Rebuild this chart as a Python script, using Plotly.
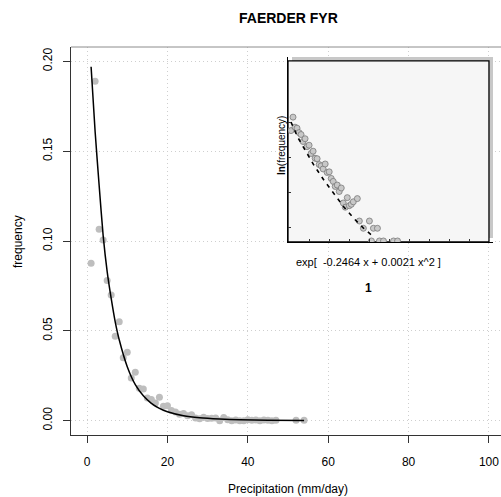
import math
import plotly.graph_objects as go

# ---------------- data ----------------
precip = [1, 2, 3, 4, 5, 6, 7, 8, 9, 10, 11, 12, 13, 14, 15, 16, 17, 18, 19, 20,
          21, 22, 23, 24, 25, 26, 27, 28, 29, 30, 31, 32, 33, 34, 35, 36, 37, 38,
          39, 40, 41, 42, 43, 44, 45, 46, 47, 52, 54]
frequency = [0.0876, 0.189, 0.1065, 0.1006, 0.078, 0.070, 0.047, 0.055, 0.035, 0.038,
             0.0237, 0.027, 0.018, 0.0176, 0.0126, 0.0117, 0.0098, 0.0130, 0.0080, 0.0083,
             0.0057, 0.0048, 0.0036, 0.0039, 0.0027, 0.0033, 0.0014, 0.0011, 0.0019, 0.0012,
             0.0013, 0.0015, 0.0, 0.0018, 0.0005, 0.0, 0.00033, 0.0, 0.0, 0.0005,
             0.00016, 0.00033, 0.0, 0.00033, 0.00016, 0.0, 0.00016, 0.00016, 0.00016]

# fitted curve in the main panel
curve_x = [1, 2, 3, 4, 5, 6, 7, 8, 10, 12, 14, 16, 18, 20, 24, 28, 33, 38, 45, 54]
curve_y = [0.197, 0.161, 0.131, 0.103, 0.083, 0.068, 0.055, 0.045, 0.030, 0.020,
           0.0138, 0.0096, 0.0068, 0.0049, 0.0027, 0.0016, 0.0009, 0.0005, 0.0002, 0.00005]

# dashed fit in the inset: ln(frequency)
fit_x = [1, 4.3, 7.6, 12.5, 17.5, 22.4, 27.4, 32.4, 37.4, 42.4]
fit_ln = [-1.95, -2.81, -3.47, -4.43, -5.29, -6.05, -6.81, -7.47, -8.05, -8.53]

x_ticks = [0, 20, 40, 60, 80, 100]
y_ticks = [0.00, 0.05, 0.10, 0.15, 0.20]

title_text = "FAERDER FYR"
xlab = "Precipitation (mm/day)"
ylab = "frequency"
inset_ylab = "<b>ln</b>(frequency)"
inset_formula = "exp[  -0.2464 x + 0.0021 x^2 ]"
inset_label = "1"

# inset values: log of the non-zero frequencies
inset_x = [x for x, f in zip(precip, frequency) if f > 0]
inset_ln = [math.log(f) for f in frequency if f > 0]

FONT = "Liberation Sans, Arial, Helvetica, sans-serif"
GRID = dict(showgrid=True, gridcolor="#CFCFCF", griddash="1px,3px", gridwidth=1)

fig = go.Figure()

# main panel
fig.add_trace(go.Scatter(x=precip, y=frequency, mode="markers",
                         marker=dict(size=7, color="#BEBEBE", line=dict(width=0)),
                         xaxis="x", yaxis="y", showlegend=False, cliponaxis=False))
fig.add_trace(go.Scatter(x=curve_x, y=curve_y, mode="lines",
                         line=dict(color="black", width=1.5, shape="spline", smoothing=0.6),
                         xaxis="x", yaxis="y", showlegend=False))

# inset panel
fig.add_trace(go.Scatter(x=inset_x, y=inset_ln, mode="markers",
                         marker=dict(size=6, color="#C8C8C8", line=dict(width=0.8, color="#7A7A7A")),
                         xaxis="x2", yaxis="y2", showlegend=False))
fig.add_trace(go.Scatter(x=fit_x, y=fit_ln, mode="lines",
                         line=dict(color="black", width=1.6, dash="4px,5px"),
                         xaxis="x2", yaxis="y2", showlegend=False))

# inset geometry (inset data coordinates)
ix0, ix1 = -0.5, 101.5
iy0, iy1 = -8.80, 1.77
fig.add_shape(type="rect", xref="x2", yref="y2", x0=1.49, x1=101.5, y0=-8.571, y1=1.77,
              fillcolor="#C8C8C8", line=dict(width=0), layer="below")
fig.add_shape(type="rect", xref="x2", yref="y2", x0=-0.5, x1=99.5, y0=-8.80, y1=1.543,
              fillcolor="#F6F6F6", line=dict(color="black", width=1.3), layer="below")

# top border of the main box
fig.add_shape(type="line", xref="paper", yref="paper", x0=0, x1=1, y0=1, y1=1,
              line=dict(color="#8C8C8C", width=1))

fig.update_layout(
    width=501, height=497,
    margin=dict(l=71, r=0, t=47, b=62),
    paper_bgcolor="white", plot_bgcolor="white",
    font=dict(family=FONT, size=12, color="black"),
    xaxis=dict(range=[-4, 103], tickvals=x_ticks, ticks="outside", ticklen=7,
               tickcolor="#333", showline=True, linecolor="#333", linewidth=1,
               zeroline=False, ticklabelstandoff=9, tickfont=dict(size=12), **GRID),
    yaxis=dict(range=[-0.008, 0.208], tickvals=y_ticks, tickformat=".2f",
               tickangle=-90, ticks="outside", ticklen=7, tickcolor="#333",
               showline=True, linecolor="#333", linewidth=1,
               zeroline=False, ticklabelstandoff=6, tickfont=dict(size=12), **GRID),
    xaxis2=dict(domain=[0.50465, 0.98140], range=[ix0, ix1], anchor="y2",
                tickvals=[0, 10, 20, 30, 40, 50, 60, 70, 80, 90], ticks="inside",
                ticklen=3, tickcolor="#333", showticklabels=False, showgrid=False,
                zeroline=False, showline=True, linecolor="black", linewidth=1.3),
    yaxis2=dict(domain=[0.49742, 0.97423], range=[iy0, iy1], anchor="x2",
                tickvals=[-2, -4, -6, -8], ticks="inside", ticklen=3, tickcolor="#333",
                showticklabels=False, showgrid=False, zeroline=False,
                showline=True, linecolor="black", linewidth=1.3),
    annotations=[
        dict(text="<b>%s</b>" % title_text, x=0.5047, y=1.076, xref="paper", yref="paper",
             showarrow=False, font=dict(size=14), xanchor="center", yanchor="middle"),
        dict(text=xlab, x=0.5047, y=-0.139, xref="paper", yref="paper",
             showarrow=False, font=dict(size=12), xanchor="center", yanchor="middle"),
        dict(text=ylab, x=-0.1233, y=0.5, xref="paper", yref="paper", textangle=-90,
             showarrow=False, font=dict(size=12), xanchor="center", yanchor="middle"),
        dict(text=inset_ylab, x=0.4884, y=0.7448, xref="paper", yref="paper", textangle=-90,
             showarrow=False, font=dict(size=10), xanchor="center", yanchor="middle"),
        dict(text=inset_formula, x=0.6907, y=0.4459, xref="paper", yref="paper",
             showarrow=False, font=dict(size=11), xanchor="center", yanchor="middle"),
        dict(text="<b>%s</b>" % inset_label, x=0.6919, y=0.3789, xref="paper", yref="paper",
             showarrow=False, font=dict(size=12), xanchor="center", yanchor="middle"),
    ],
)

fig.write_html("out.html")
